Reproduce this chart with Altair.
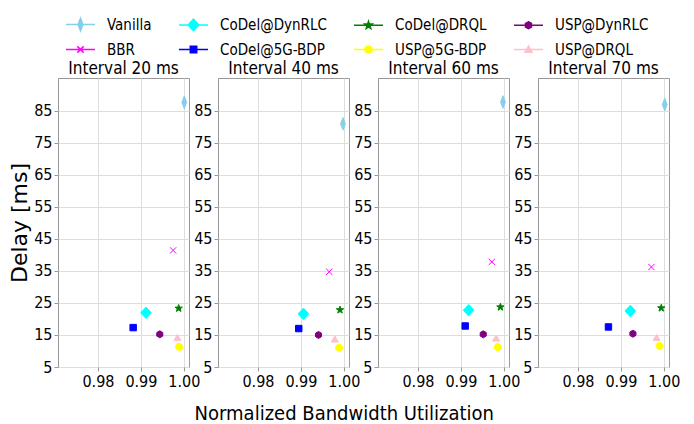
import altair as alt
import pandas as pd

# Legend order (row-major, 4 columns)
SERIES = ["Vanilla", "CoDel@DynRLC", "CoDel@DRQL", "USP@DynRLC",
          "BBR", "CoDel@5G-BDP", "USP@5G-BDP", "USP@DRQL"]
# Drawing order (as plotted originally)
DRAW_ORDER = ["Vanilla", "BBR", "CoDel@DynRLC", "CoDel@5G-BDP",
              "CoDel@DRQL", "USP@5G-BDP", "USP@DynRLC", "USP@DRQL"]
COLORS = ["#87ceeb", "#00ffff", "#008000", "#800080",
          "#ff00ff", "#0000ff", "#ffff00", "#ffc0cb"]

# marker outlines in unit coordinates, with a per-marker scale
THIN_DIAMOND_PTS = [(0, -0.9), (0.34, 0), (0, 0.9), (-0.34, 0)]
DIAMOND_PTS = [(0, -0.82), (0.76, 0), (0, 0.82), (-0.76, 0)]
STAR_PTS = [(0, -1), (0.235, -0.324), (0.951, -0.309), (0.380, 0.124), (0.588, 0.809),
            (0, 0.4), (-0.588, 0.809), (-0.380, 0.124), (-0.951, -0.309), (-0.235, -0.324)]
HEX_PTS = [(0, -1), (0.866, -0.5), (0.866, 0.5), (0, 1), (-0.866, 0.5), (-0.866, -0.5)]
OCT_PTS = [(-0.41, -1), (0.41, -1), (1, -0.41), (1, 0.41), (0.41, 1), (-0.41, 1), (-1, 0.41), (-1, -0.41)]
SQ_PTS = [(-1, -1), (1, -1), (1, 1), (-1, 1)]
TRI_PTS = [(0, -1), (1, 0.75), (-1, 0.75)]
X_SEGS = [[(-1, -1), (1, 1)], [(-1, 1), (1, -1)]]

MARKERS = [(THIN_DIAMOND_PTS, 1.0, True), (DIAMOND_PTS, 1.0, True), (STAR_PTS, 0.55, True),
           (HEX_PTS, 0.5, True), (X_SEGS, 0.45, False), (SQ_PTS, 0.46, True),
           (OCT_PTS, 0.48, True), (TRI_PTS, 0.5, True)]


def path(pts, scale, closed=True):
    s = "M" + "L".join(f"{x * scale:.3f},{y * scale:.3f}" for x, y in pts)
    return s + ("Z" if closed else "")


def marker_path(spec, k=1.0):
    pts, sc, closed = spec
    if closed:
        return path(pts, sc * k)
    return "".join(path(seg, sc * k, False) for seg in pts)


MARKER_SIZE = 196           # plot markers: unit square = 14 px
LEGEND_SIZE = 841           # legend symbols: unit square = 29 px
K = 14 / 29
SHAPES = [marker_path(m) for m in MARKERS]
LEGEND_SHAPES = ["M-1,0L1,0" + marker_path(m, K) for m in MARKERS]

INTERVALS = [20, 40, 60, 70]
# values in SERIES order
util_20 = [1.0001, 0.9912, 0.9988, 0.9944, 0.9975, 0.9882, 0.9989, 0.9985]
delay_20 = [87.6, 21.9, 23.3, 15.2, 41.4, 17.3, 11.3, 14.1]
util_40 = [0.9998, 0.9906, 0.9991, 0.9941, 0.9966, 0.9895, 0.9989, 0.9979]
delay_40 = [80.9, 21.6, 22.8, 15.0, 34.7, 17.0, 11.0, 13.6]
util_60 = [0.9998, 0.9918, 0.9992, 0.9952, 0.9972, 0.9910, 0.9986, 0.9982]
delay_60 = [87.7, 22.7, 23.7, 15.2, 37.8, 17.8, 11.2, 13.9]
util_70 = [1.0002, 0.9922, 0.9994, 0.9928, 0.9971, 0.9871, 0.9990, 0.9983]
delay_70 = [86.9, 22.5, 23.4, 15.4, 36.2, 17.5, 11.5, 14.1]

UTIL = {20: util_20, 40: util_40, 60: util_60, 70: util_70}
DELAY = {20: delay_20, 40: delay_40, 60: delay_60, 70: delay_70}

Y_TICKS = [5, 15, 25, 35, 45, 55, 65, 75, 85]
X_TICKS = [0.98, 0.99, 1.00]

FONT = "DejaVu Sans Condensed"

color_scale = alt.Scale(domain=SERIES, range=COLORS)
shape_scale = alt.Scale(domain=SERIES, range=SHAPES)
legend_shape_scale = alt.Scale(domain=SERIES, range=LEGEND_SHAPES)

legend = alt.Legend(
    title=None, orient="none", legendX=7, legendY=0, direction="horizontal", columns=4,
    labelFont=FONT, labelFontSize=15, labelColor="black",
    symbolSize=LEGEND_SIZE, symbolStrokeWidth=1.5, symbolOpacity=1,
    labelOffset=11, columnPadding=24, rowPadding=-3,
)


def panel(iv, first):
    rows = []
    for name in DRAW_ORDER:
        i = SERIES.index(name)
        rows.append({"series": name, "util": UTIL[iv][i], "delay": DELAY[iv][i],
                     "order": DRAW_ORDER.index(name)})
    df = pd.DataFrame(rows)
    yaxis = alt.Axis(values=Y_TICKS, title="Delay [ms]" if first else None,
                     titleFont="DejaVu Sans", titleFontSize=22, titleFontWeight="normal",
                     titlePadding=2, labelFont=FONT, labelFontSize=16)
    return alt.Chart(df).mark_point(filled=True, opacity=1, strokeWidth=1,
                                    size=MARKER_SIZE).encode(
        x=alt.X("util:Q", scale=alt.Scale(domain=[0.9707, 1.0012], nice=False, zero=False),
                axis=alt.Axis(values=X_TICKS, format=".2f", title=None,
                              labelFont=FONT, labelFontSize=16)),
        y=alt.Y("delay:Q", scale=alt.Scale(domain=[5, 95.2], nice=False, zero=False),
                axis=yaxis),
        fill=alt.Fill("series:N", scale=color_scale, legend=None),
        stroke=alt.Stroke("series:N", scale=color_scale, legend=None),
        shape=alt.Shape("series:N", scale=shape_scale, legend=None),
        order=alt.Order("order:Q"),
    ).properties(
        width=131, height=289,
        title=alt.TitleParams(f"Interval {iv} ms", font=FONT, fontSize=17,
                              fontWeight="normal", color="black", offset=0),
    )


legend_df = pd.DataFrame({"series": SERIES})
legend_chart = alt.Chart(legend_df).mark_point(filled=True, opacity=0, size=1).encode(
    fill=alt.Fill("series:N", scale=color_scale, legend=legend),
    stroke=alt.Stroke("series:N", scale=color_scale, legend=legend),
    shape=alt.Shape("series:N", scale=legend_shape_scale, legend=legend),
).properties(width=1, height=1, view=alt.ViewBackground(stroke="transparent"))

panels = alt.hconcat(*[panel(iv, k == 0) for k, iv in enumerate(INTERVALS)],
                     spacing=29, bounds="flush")

chart = alt.vconcat(legend_chart, panels, spacing=0).resolve_scale(
    fill="independent", stroke="independent", shape="independent"
).properties(
    title=alt.TitleParams("Normalized Bandwidth Utilization", orient="bottom", anchor="middle",
                          font=FONT, fontSize=20, fontWeight="normal", color="black", offset=14),
    padding={"left": 0, "top": 0, "right": 2, "bottom": 0},
).configure_view(
    stroke="#999999", strokeWidth=1
).configure_axis(
    grid=True, gridColor="#dddddd", gridWidth=1, domain=False,
    tickColor="#999999", tickSize=4, labelColor="black", labelPadding=2,
)

chart.save("out.html", embed_options={"renderer": "svg", "actions": False})
